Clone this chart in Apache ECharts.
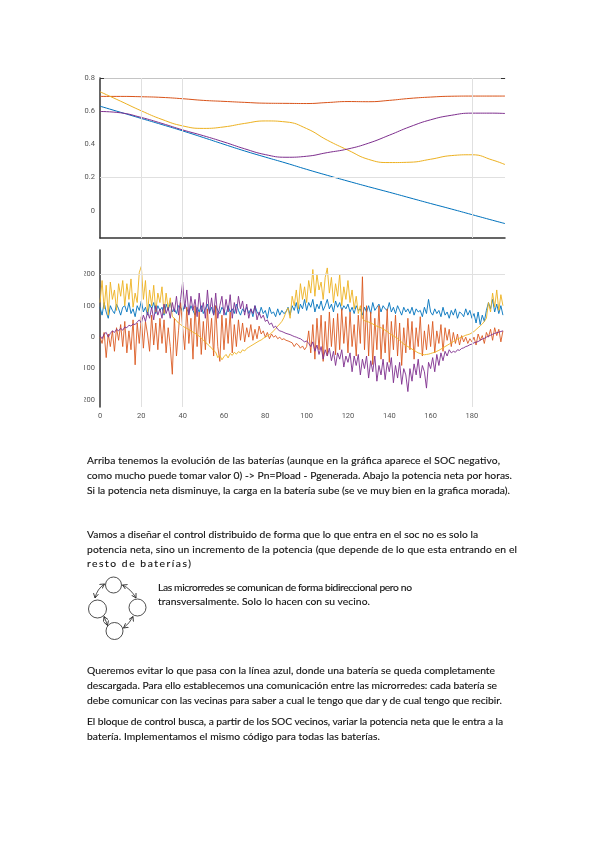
<!DOCTYPE html>
<html><head><meta charset="utf-8">
<script src="https://cdn.jsdelivr.net/npm/echarts@6/dist/echarts.min.js"></script>
<style>
html,body{margin:0;padding:0;background:#fff;width:600px;height:848px;overflow:hidden;}
#clip{position:absolute;left:84px;top:60px;width:433px;height:372px;overflow:hidden;}
#chart{position:absolute;left:-84px;top:-60px;width:600px;height:432px;}
#doc{position:absolute;left:0;top:0;pointer-events:none;}
#doc text{font-family:Lato,"Open Sans",sans-serif;font-size:10.3px;fill:#111;stroke:#111;stroke-width:0.12px;}
</style></head>
<body>
<div id="clip"><div id="chart"></div></div>
<svg id="doc" width="600" height="848" xmlns="http://www.w3.org/2000/svg">
  <defs>
    <marker id="ah" markerUnits="userSpaceOnUse" markerWidth="6" markerHeight="6" refX="4.5" refY="3" orient="auto-start-reverse">
      <path d="M0,0.5 L4.5,3 L0,5.5" fill="none" stroke="#222" stroke-width="0.8"/>
    </marker>
  </defs>
  <text x="87" y="463.5" textLength="413" lengthAdjust="spacing">Arriba tenemos la evolución de las baterías (aunque en la gráfica aparece el SOC negativo,</text>
  <text x="87" y="478.5" textLength="425" lengthAdjust="spacing">como mucho puede tomar valor 0) -&gt; Pn=Pload - Pgenerada. Abajo la potencia neta por horas.</text>
  <text x="87" y="493.5" textLength="423" lengthAdjust="spacing">Si la potencia neta disminuye, la carga en la batería sube (se ve muy bien en la grafica morada).</text>

  <text x="87" y="537.5" textLength="391" lengthAdjust="spacing">Vamos a diseñar el control distribuido de forma que lo que entra en el soc no es solo la</text>
  <text x="87" y="552.5" textLength="430" lengthAdjust="spacing">potencia neta, sino un incremento de la potencia (que depende de lo que esta entrando en el</text>
  <text x="87" y="567" textLength="104" lengthAdjust="spacing">resto de baterías)</text>

  <text x="158" y="590.5" textLength="254" lengthAdjust="spacing">Las microrredes se comunican de forma bidireccional pero no</text>
  <text x="158" y="605" textLength="212" lengthAdjust="spacing">transversalmente. Solo lo hacen con su vecino.</text>

  <g fill="none" stroke="#222" stroke-width="0.8">
    <circle cx="113.5" cy="585" r="8"/>
    <circle cx="97.5" cy="609" r="9"/>
    <circle cx="137.5" cy="607.5" r="8.5"/>
    <circle cx="114.5" cy="631" r="8.5"/>
    <path d="M95,598 Q97,589 104.5,584" marker-start="url(#ah)" marker-end="url(#ah)"/>
    <path d="M122.5,585 Q131,589 136,598" marker-start="url(#ah)" marker-end="url(#ah)"/>
    <path d="M133,616.5 Q130,623 123.5,628" marker-start="url(#ah)" marker-end="url(#ah)"/>
    <path d="M107.5,625.5 Q106,621 104,616.5" marker-start="url(#ah)" marker-end="url(#ah)"/>
  </g>

  <text x="87" y="673.5" textLength="408" lengthAdjust="spacing">Queremos evitar lo que pasa con la línea azul, donde una batería se queda completamente</text>
  <text x="87" y="688.5" textLength="410" lengthAdjust="spacing">descargada. Para ello establecemos una comunicación entre las microrredes:  cada batería se</text>
  <text x="87" y="703.5" textLength="415" lengthAdjust="spacing">debe comunicar con las vecinas para saber a cual le tengo que dar y de cual tengo que recibir.</text>
  <text x="87" y="724.5" textLength="416" lengthAdjust="spacing">El bloque de control busca, a partir de los SOC vecinos, variar la potencia neta que le entra a la</text>
  <text x="87" y="739.5" textLength="293" lengthAdjust="spacing">batería.  Implementamos el mismo código para todas las baterías.</text>
</svg>
<script>
// ---- top chart: state of charge, sampled hours ----
const socHours = [0,10,20,30,40,50,60,70,80,90,100,110,120,130,140,150,160,170,180,190,196];
const socBlue   = [0.630,0.593,0.556,0.519,0.481,0.441,0.400,0.360,0.323,0.287,0.249,0.213,0.178,0.144,0.111,0.077,0.043,0.010,-0.024,-0.058,-0.078];
const socOrange = [0.689,0.689,0.687,0.683,0.675,0.665,0.659,0.653,0.648,0.647,0.646,0.652,0.658,0.657,0.665,0.677,0.685,0.690,0.691,0.691,0.691];
const socYellow = [0.717,0.660,0.602,0.550,0.511,0.496,0.505,0.526,0.541,0.535,0.495,0.425,0.365,0.309,0.290,0.292,0.310,0.332,0.337,0.305,0.278];
const socPurple = [0.598,0.590,0.562,0.526,0.487,0.452,0.414,0.373,0.338,0.322,0.328,0.350,0.372,0.407,0.455,0.506,0.548,0.575,0.588,0.588,0.586];

// ---- bottom chart: net power per hour (h = 0..195) ----
const netBlue = [95,70,110,80,60,100,85,75,105,90,
70,95,100,80,110,75,90,65,100,85,
115,80,95,70,105,90,110,75,100,85,
95,70,105,85,110,80,90,75,100,95,
80,105,90,75,100,85,70,95,80,100,
75,90,105,80,95,70,100,85,75,95,
85,70,100,80,90,75,105,85,70,90,
80,95,75,90,65,100,80,70,95,75,
85,60,95,75,80,65,90,70,85,75,
80,95,70,100,85,110,75,105,90,120,
85,110,95,120,80,105,90,115,85,100,
120,90,105,80,115,95,110,85,100,90,
105,80,95,75,100,85,90,70,95,80,
100,75,110,85,95,105,80,100,90,85,
110,80,95,75,100,85,70,95,80,90,
75,95,70,90,80,85,65,95,75,120,
80,70,90,75,85,65,95,70,80,60,
85,70,90,60,80,75,65,90,70,85,
60,75,45,80,40,70,50,85,110,90,
120,80,105,75,100,70];
const netOrange = [0,-20,15,-65,10,-30,20,-45,30,-10,
40,-30,50,-50,20,-40,55,-88,45,-20,
65,-35,50,10,-45,70,-25,45,-40,60,
-20,55,-50,30,-30,-118,60,-60,20,110,
30,-40,95,-20,60,-70,100,-30,80,-55,
50,-40,90,-20,60,-60,100,-30,-77,70,
-40,60,-20,80,-50,40,-30,55,-10,45,
-15,30,0,40,-10,25,-5,35,10,20,
0,15,-5,10,0,5,-5,0,-8,-5,
-10,-12,-15,-18,-30,-20,-25,-35,-28,-40,
-30,20,-50,40,-70,60,-40,70,-77,50,
-60,80,-30,60,-56,75,-40,90,-20,65,
-50,80,-30,40,-60,70,-20,192,-40,100,
-60,80,-87,60,-40,100,-70,40,-50,90,
-80,50,-40,70,-60,45,-90,30,-50,60,
-40,50,-70,30,-30,65,-60,20,-40,40,
-30,50,-50,20,-20,40,-45,30,-10,25,
-30,15,-20,10,-25,5,-15,0,-20,-5,
-15,0,-25,10,-10,5,-20,15,0,25,
-10,30,5,25,-15,20];
const netYellow = [110,180,90,165,70,175,120,150,85,170,
130,180,100,170,120,185,95,140,110,205,
225,120,180,75,150,100,165,80,140,110,
160,75,140,90,125,65,60,52,45,40,
35,31,28,24,20,16,12,8,3,-3,
-9,-16,-22,-28,-35,-42,-48,-65,-58,-72,
-62,-55,-66,-52,-58,-48,-54,-46,-50,-40,
-44,-36,-32,-28,-24,-20,-16,-12,-9,-4,
0,4,8,13,20,27,35,42,50,62,
80,93,60,130,100,150,90,170,120,160,
110,180,140,215,130,200,150,175,120,190,
220,140,190,110,170,130,200,100,160,120,
180,110,150,90,130,75,100,60,52,50,
48,45,42,38,35,32,30,26,22,18,
12,8,4,0,-4,-10,-16,-22,-26,-30,
-34,-38,-42,-46,-50,-52,-55,-56,-55,-54,
-52,-50,-48,-45,-42,-38,-34,-30,-26,-22,
-18,-14,-10,-6,-3,0,3,6,8,10,
14,18,24,30,36,42,50,60,110,80,
140,95,150,85,135,100];
const netPurple = [5,-5,10,15,0,12,20,15,25,20,
28,22,32,30,38,35,42,40,48,55,
45,70,50,80,60,95,55,100,70,90,
60,105,75,95,60,110,80,130,70,120,
175,90,150,70,130,85,120,65,140,80,
110,60,150,75,125,70,140,60,100,130,
70,120,80,135,60,110,75,130,90,115,
70,105,60,90,75,100,55,80,60,70,
50,55,40,45,30,35,25,20,18,15,
12,10,8,5,2,0,-3,-5,-10,-15,
-12,-20,-30,-15,-45,-25,-55,-30,-70,-40,
-60,-35,-75,-45,-90,-50,-70,-40,-95,-60,
-80,-50,-110,-60,-90,-55,-120,-70,-100,-60,
-130,-75,-110,-60,-140,-90,-120,-70,-135,-80,
-110,-65,-145,-90,-130,-80,-150,-100,-120,-173,
-100,-140,-85,-120,-70,-130,-90,-110,-162,-80,
-100,-65,-110,-55,-90,-50,-75,-45,-60,-40,
-50,-45,-48,-40,-42,-36,-34,-30,-28,-24,
-22,-18,-16,-14,-10,-6,-4,0,3,6,
9,12,14,16,18,20];

const xTickLabels = [0,20,40,60,80,100,120,140,160,180];
const socTickLabels = [0,0.2,0.4,0.6,0.8];
const netTickLabels = [-200,-100,0,100,200];

const COLORS = {blue:'#0072BD', orange:'#D95319', yellow:'#EDB120', purple:'#7E2F8E'};
const gridTicks = [20,40,180];
const lbl = {fontSize:7.5, color:'#555', fontFamily:'Roboto'};
const tick = {show:true, inside:true, length:4, customValues:gridTicks, lineStyle:{color:'#333', width:1}};

function pairs(xs, ys){ return ys.map((v,i)=>[xs[i], v]); }
function hourly(ys){ return ys.map((v,i)=>[i, v]); }

const chart = echarts.init(document.getElementById('chart'), null, {renderer:'canvas'});
const gl = {symbol:'none', silent:true, animation:false, label:{show:false}, lineStyle:{color:'#e0e0e0', type:'solid', width:1}};

const option = {
  animation:false,
  backgroundColor:'#fff',
  grid:[
    {left:100, top:78, width:405, height:160, outerBoundsMode:'none'},
    {left:100, top:250, width:405, height:157, outerBoundsMode:'none'}
  ],
  xAxis:[
    {gridIndex:0, type:'value', min:0, max:196, position:'bottom',
     axisLine:{show:true, onZero:false, lineStyle:{color:'#333', width:1.5}}, axisTick:tick, axisLabel:{show:false}, splitLine:{show:false}},
    {gridIndex:0, type:'value', min:0, max:196, position:'top',
     axisLine:{show:true, onZero:false, lineStyle:{color:'#c4c4c4', width:1}}, axisTick:tick, axisLabel:{show:false}, splitLine:{show:false}},
    {gridIndex:1, type:'value', min:0, max:196, position:'bottom',
     axisLine:{show:false, onZero:false}, axisTick:tick, axisLabel:Object.assign({customValues:xTickLabels, margin:5}, lbl), splitLine:{show:false}},
    {gridIndex:1, type:'value', min:0, max:196, position:'top',
     axisLine:{show:false, onZero:false}, axisTick:tick, axisLabel:{show:false}, splitLine:{show:false}}
  ],
  yAxis:[
    {gridIndex:0, type:'value', min:-0.165, max:0.8, position:'left',
     axisLine:{show:true, onZero:false, lineStyle:{color:'#333', width:1.5}},
     axisTick:{show:true, inside:true, length:4, customValues:[0.2,0.8], lineStyle:{color:'#333'}},
     axisLabel:Object.assign({customValues:socTickLabels, margin:5, formatter:v=> v===0?'0':(+v).toFixed(1)}, lbl),
     splitLine:{show:false}},
    {gridIndex:0, type:'value', min:-0.165, max:0.8, position:'right',
     axisLine:{show:false, onZero:false},
     axisTick:{show:true, inside:true, length:4, customValues:[0.2,0.8], lineStyle:{color:'#333'}},
     axisLabel:{show:false}, splitLine:{show:false}},
    {gridIndex:1, type:'value', min:-222, max:277, position:'left',
     axisLine:{show:true, onZero:false, lineStyle:{color:'#333', width:1.5}},
     axisTick:{show:true, inside:true, length:4, customValues:[200], lineStyle:{color:'#333'}},
     axisLabel:Object.assign({customValues:netTickLabels, margin:5, formatter:v=>String(v)}, lbl),
     splitLine:{show:false}},
    {gridIndex:1, type:'value', min:-222, max:277, position:'right',
     axisLine:{show:false, onZero:false},
     axisTick:{show:true, inside:true, length:4, customValues:[200], lineStyle:{color:'#333'}},
     axisLabel:{show:false}, splitLine:{show:false}}
  ],
  series:[
    {type:'line', xAxisIndex:0, yAxisIndex:0, data:[], z:0,
     markLine:Object.assign({data:[{xAxis:20},{xAxis:40},{xAxis:180},{yAxis:0.2}]}, gl)},
    {type:'line', xAxisIndex:2, yAxisIndex:2, data:[], z:0,
     markLine:Object.assign({data:[{xAxis:20},{xAxis:40},{xAxis:180},{yAxis:200}]}, gl)},

    {name:'B1', type:'line', xAxisIndex:0, yAxisIndex:0, smooth:true, showSymbol:false, data:pairs(socHours, socBlue),   lineStyle:{color:COLORS.blue, width:1}, itemStyle:{color:COLORS.blue}},
    {name:'B2', type:'line', xAxisIndex:0, yAxisIndex:0, smooth:true, showSymbol:false, data:pairs(socHours, socOrange), lineStyle:{color:COLORS.orange, width:1}, itemStyle:{color:COLORS.orange}},
    {name:'B3', type:'line', xAxisIndex:0, yAxisIndex:0, smooth:true, showSymbol:false, data:pairs(socHours, socYellow), lineStyle:{color:COLORS.yellow, width:1}, itemStyle:{color:COLORS.yellow}},
    {name:'B4', type:'line', xAxisIndex:0, yAxisIndex:0, smooth:true, showSymbol:false, data:pairs(socHours, socPurple), lineStyle:{color:COLORS.purple, width:1}, itemStyle:{color:COLORS.purple}},

    {name:'P1', type:'line', xAxisIndex:2, yAxisIndex:2, showSymbol:false, data:hourly(netBlue),   lineStyle:{color:COLORS.blue, width:1, opacity:0.9}, itemStyle:{color:COLORS.blue}},
    {name:'P2', type:'line', xAxisIndex:2, yAxisIndex:2, showSymbol:false, data:hourly(netOrange), lineStyle:{color:COLORS.orange, width:1, opacity:0.85}, itemStyle:{color:COLORS.orange}},
    {name:'P3', type:'line', xAxisIndex:2, yAxisIndex:2, showSymbol:false, data:hourly(netYellow), lineStyle:{color:COLORS.yellow, width:1, opacity:0.9}, itemStyle:{color:COLORS.yellow}},
    {name:'P4', type:'line', xAxisIndex:2, yAxisIndex:2, showSymbol:false, data:hourly(netPurple), lineStyle:{color:COLORS.purple, width:1, opacity:0.9}, itemStyle:{color:COLORS.purple}}
  ]
};
chart.setOption(option);
</script>
</body></html>
